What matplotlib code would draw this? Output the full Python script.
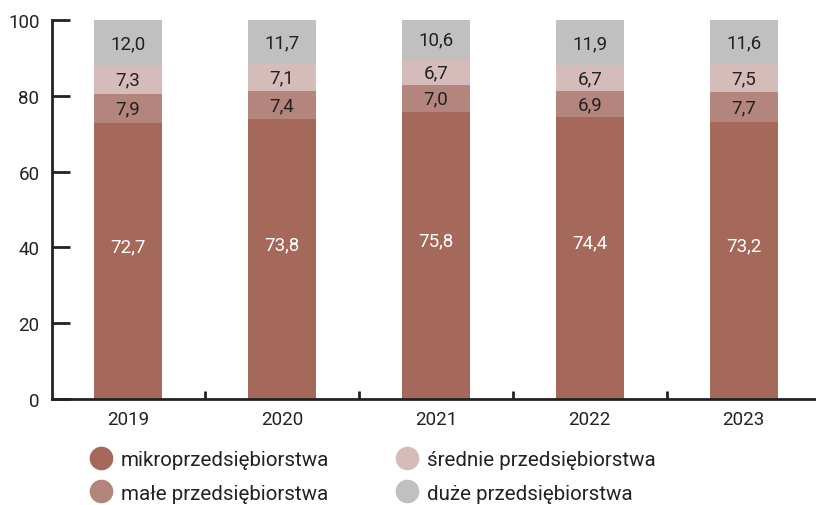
import numpy as np
import matplotlib.pyplot as plt
from matplotlib.lines import Line2D

plt.rcParams["font.family"] = ["Roboto", "DejaVu Sans"]

# ── Data ─────────────────────────────────────────────────────────────────────
years = ["2019", "2020", "2021", "2022", "2023"]
mikro = [72.7, 73.8, 75.8, 74.4, 73.2]
male = [7.9, 7.4, 7.0, 6.9, 7.7]
srednie = [7.3, 7.1, 6.7, 6.7, 7.5]
duze = [12.0, 11.7, 10.6, 11.9, 11.6]

series = [
    ("mikroprzedsiębiorstwa", mikro, "#a4695b", "white"),
    ("małe przedsiębiorstwa", male, "#b3857c", "#222222"),
    ("średnie przedsiębiorstwa", srednie, "#d5bcba", "#222222"),
    ("duże przedsiębiorstwa", duze, "#c0c0c0", "#222222"),
]

INK = "#222222"

fig = plt.figure(figsize=(8.16, 5.06), dpi=100)
ax = fig.add_axes([0.0637, 0.2095, 0.9363, 0.749])

x = np.arange(len(years))
bottom = np.zeros(len(years))
for i, (name, vals, color, txt) in enumerate(series):
    vals = np.array(vals)
    ax.bar(x, vals, width=0.44, bottom=bottom, color=color, zorder=2)
    for xi, b, v in zip(x, bottom, vals):
        label = f"{v:.1f}".replace(".", ",")
        if i == 0:
            ax.annotate(label, (xi, b + v / 2), xytext=(0, 11),
                        textcoords="offset points", ha="center", va="center",
                        color=txt, fontsize=13.5)
        else:
            ax.text(xi, b + v / 2, label, ha="center", va="center",
                    color=txt, fontsize=13.5)
    bottom += vals

# ── Axes ─────────────────────────────────────────────────────────────────────
ax.set_xlim(-0.494, 4.47)
ax.set_ylim(0, 100)
for s in ["top", "right"]:
    ax.spines[s].set_visible(False)
for s in ["left", "bottom"]:
    ax.spines[s].set_linewidth(2)
    ax.spines[s].set_color(INK)

ax.set_yticks([0, 20, 40, 60, 80, 100])
ax.tick_params(axis="y", direction="in", length=13, width=2, color=INK,
               labelsize=13.5, labelcolor=INK, pad=9)

ax.set_xticks(x)
ax.set_xticklabels(years)
ax.tick_params(axis="x", length=0, labelsize=13.5, labelcolor=INK, pad=8)
ax.set_xticks(x[:-1] + 0.5, minor=True)
ax.tick_params(axis="x", which="minor", direction="in", length=6, width=2,
               color=INK)

# ── Legend ───────────────────────────────────────────────────────────────────
handles = [Line2D([], [], marker="o", linestyle="none", markersize=16,
                  markerfacecolor=c, markeredgecolor=c, label=n)
           for n, _, c, _ in series]
fig.legend(handles=handles, ncol=2, loc="upper left",
           bbox_to_anchor=(0.1115, 0.109), frameon=False, fontsize=14.8,
           labelcolor=INK, handlelength=1.0, handletextpad=0.45,
           columnspacing=3.3, labelspacing=0.72, borderpad=0,
           borderaxespad=0)

fig.savefig("out.png", dpi=100)
